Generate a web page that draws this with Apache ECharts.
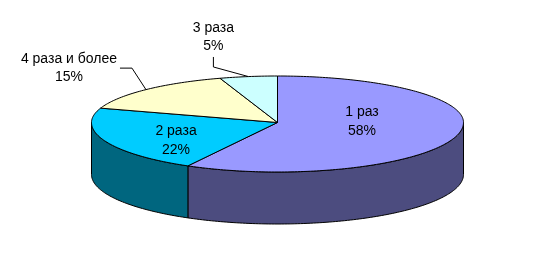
<!DOCTYPE html>
<html><head><meta charset="utf-8">
<script src="https://cdn.jsdelivr.net/npm/echarts@6/dist/echarts.min.js"></script>
<style>html,body{margin:0;padding:0;background:#fff}#c{width:554px;height:263px}</style>
</head><body><div id="c"></div>
<script>
// ---- data ----
const categories = ['1 раз', '2 раза', '4 раза и более', '3 раза'];
const values = [58, 22, 15, 5];

// ---- styles ----
const topColors = ['#9999FF', '#00CCFF', '#FFFFCC', '#CCFFFF'];
const sideColors = ['#4C4C7F', '#00667F', '#80805F', '#668080'];

// ---- geometry (layout, not data) ----
const CX = 277.5, CY = 122.5, RX = 186, RY_BACK = 46.5, RY_FRONT = 49.5, DEPTH = 52;
const FONT = '14px "Liberation Sans", Arial, sans-serif';
const labelLayout = [
  {type: 'in', f: 0.5, dx: -5.6, dy: -7, lh: 19},
  {type: 'in', f: 0.5, dx: -15, dy: 9, lh: 19},
  {type: 'out', bend: [-14, -21.5], tail: [-12, 0], textDx: -51, align: 'middle', lh: 18},
  {type: 'out', bend: [-35, -9.6], tail: [0, -10], textDx: 0, align: 'bottom', lh: 18}
];

const total = values.reduce((a, b) => a + b, 0);
const cum = [0];
values.forEach(v => cum.push(cum[cum.length - 1] + v));

function pt(theta, f, dz) {
  const r = theta * Math.PI / 180;
  const c = Math.cos(r);
  const ry = c > 0 ? RY_BACK : RY_FRONT;
  return [CX + RX * f * Math.sin(r), CY - ry * f * c + (dz || 0)];
}
function arc(a0, a1, dz) {
  const pts = [];
  const n = Math.max(2, Math.ceil(Math.abs(a1 - a0)));
  for (let k = 0; k <= n; k++) pts.push(pt(a0 + (a1 - a0) * k / n, 1, dz));
  return pts;
}

function renderItem(params, api) {
  const i = params.dataIndex;
  const v = api.value(0);
  const start = cum[i] / total * 360;
  const end = start + v / total * 360;
  const mid = (start + end) / 2;
  const children = [];
  const s = Math.max(start, 90), e = Math.min(end, 270);
  if (s < e) {
    const pts = arc(s, e, 0).concat(arc(e, s, DEPTH));
    children.push({type: 'polygon', shape: {points: pts},
      style: {fill: sideColors[i], stroke: '#000', lineWidth: 1}});
  }
  const topPts = [[CX, CY]].concat(arc(start, end, 0));
  children.push({type: 'polygon', shape: {points: topPts},
    style: {fill: topColors[i], stroke: '#000', lineWidth: 1}});
  const txt = categories[i] + '\n' + Math.round(v / total * 100) + '%';
  const L = labelLayout[i];
  if (L.type === 'in') {
    const p = pt(mid, L.f, 0);
    children.push({type: 'text', z2: 10, style: {text: txt, x: p[0] + L.dx, y: p[1] + L.dy,
      fill: '#000', font: FONT, align: 'center', verticalAlign: 'middle', lineHeight: L.lh}});
  } else {
    const a = pt(mid, 1, 0);
    const b = [a[0] + L.bend[0], a[1] + L.bend[1]];
    const c = [b[0] + L.tail[0], b[1] + L.tail[1]];
    children.push({type: 'polyline', shape: {points: [a, b, c]},
      style: {stroke: '#000', lineWidth: 1, fill: null}});
    const ty = L.align === 'bottom' ? c[1] - 2 : c[1];
    children.push({type: 'text', z2: 10, style: {text: txt, x: c[0] + L.textDx, y: ty,
      fill: '#000', font: FONT, align: 'center', verticalAlign: L.align, lineHeight: L.lh}});
  }
  return {type: 'group', children};
}

const chart = echarts.init(document.getElementById('c'), null, {renderer: 'canvas'});
chart.setOption({
  backgroundColor: '#fff',
  animation: false,
  series: [{
    type: 'custom',
    coordinateSystem: 'none',
    renderItem: renderItem,
    data: values.map((v, i) => ({name: categories[i], value: [v]}))
  }]
});
</script></body></html>
